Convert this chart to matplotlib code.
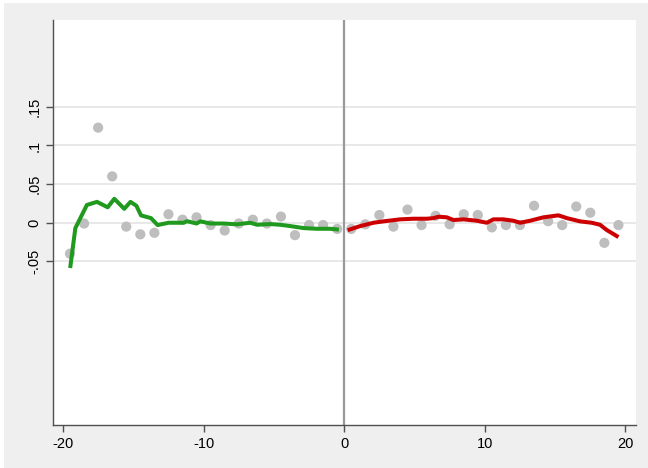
import matplotlib.pyplot as plt
from matplotlib.patches import Rectangle

plt.rcParams['font.family'] = ['Liberation Sans', 'DejaVu Sans']
plt.rcParams['axes.unicode_minus'] = False

# bin means
bin_x = [-19.5, -18.5, -17.5, -16.5, -15.5, -14.5, -13.5, -12.5, -11.5, -10.5,
         -9.5, -8.5, -7.5, -6.5, -5.5, -4.5, -3.5, -2.5, -1.5, -0.5,
         0.5, 1.5, 2.5, 3.5, 4.5, 5.5, 6.5, 7.5, 8.5, 9.5,
         10.5, 11.5, 12.5, 13.5, 14.5, 15.5, 16.5, 17.5, 18.5, 19.5]
bin_y = [-0.040, -0.001, 0.123, 0.060, -0.005, -0.015, -0.013, 0.011, 0.004, 0.007,
         -0.003, -0.010, -0.001, 0.004, -0.001, 0.008, -0.016, -0.003, -0.003, -0.008,
         -0.008, -0.002, 0.010, -0.005, 0.017, -0.003, 0.009, -0.002, 0.011, 0.010,
         -0.006, -0.003, -0.003, 0.022, 0.002, -0.003, 0.021, 0.013, -0.026, -0.003]

# local fit, left of cutoff
left_x = [-19.47, -19.12, -18.3, -17.58, -16.82, -16.35, -15.64, -15.2, -14.78, -14.45,
          -13.74, -13.27, -12.49, -11.42, -11.18, -10.5, -10.23, -9.52, -8.58, -7.63,
          -6.68, -6.2, -5.26, -4.55, -3.84, -2.89, -1.94, -1.0, -0.52]
left_y = [-0.056, -0.007, 0.023, 0.027, 0.020, 0.031, 0.018, 0.027, 0.022, 0.0095,
          0.006, -0.003, 0.0, 0.0, 0.002, -0.001, 0.0018, -0.001, -0.001, -0.002,
          0.0, -0.0026, -0.0017, -0.0026, -0.0043, -0.0069, -0.0078, -0.0078, -0.0086]

# local fit, right of cutoff
right_x = [0.38, 1.14, 2.08, 2.79, 3.98, 4.93, 5.88, 6.35, 6.71, 7.3,
           7.77, 8.48, 9.43, 10.14, 10.61, 11.32, 12.03, 12.51, 13.22, 14.16,
           15.23, 15.83, 16.77, 17.6, 18.19, 18.67, 19.38]
right_y = [-0.0088, -0.0043, 0.0, 0.0018, 0.0044, 0.0052, 0.0052, 0.006, 0.0078, 0.007,
           0.0035, 0.0044, 0.0026, 0.0, 0.0044, 0.0044, 0.0026, 0.0, 0.0026, 0.007,
           0.0096, 0.006, 0.0018, 0.0, -0.0026, -0.0094, -0.0172]

yticks = [-0.05, 0, 0.05, 0.1, 0.15]
ytick_labels = ['-.05', '0', '.05', '.1', '.15']
xticks = [-20, -10, 0, 10, 20]

fig = plt.figure(figsize=(6.48, 4.68), dpi=100, facecolor='white')
fig.patches.append(Rectangle((4 / 648, 0), 1, 1 - 3 / 468, transform=fig.transFigure,
                             facecolor='#efefef', edgecolor='none', zorder=-10))
ax = fig.add_axes([52.7 / 648, 1 - 425.3 / 468, (636 - 52.7) / 648, (425.3 - 20.2) / 468])
ax.set_facecolor('white')

for y in yticks:
    ax.axhline(y, color='#e6e6e6', lw=1.3, zorder=0)
ax.axvline(0, color='#999999', lw=1.6, zorder=1)

ax.scatter(bin_x, bin_y, s=54, color='#bebebe', edgecolors='none', zorder=2)
ax.plot(left_x, left_y, color='#1f9a1f', lw=2.9, solid_joinstyle='round', zorder=3)
ax.plot(right_x, right_y, color='#cc0000', lw=2.9, solid_joinstyle='round', zorder=3)

ax.set_xlim(-20.73, 20.75)
ax.set_ylim(-0.262, 0.262)
ax.set_xticks(xticks)
ax.set_yticks(yticks)
ax.set_yticklabels(ytick_labels, rotation=90, va='center')

for side in ['top', 'right']:
    ax.spines[side].set_visible(False)
for side in ['left', 'bottom']:
    ax.spines[side].set_color('#505050')
    ax.spines[side].set_linewidth(1.0)
ax.tick_params(axis='both', color='#505050', length=5, width=1.0, labelsize=10.5,
               labelcolor='black')
ax.tick_params(axis='y', pad=3)

fig.savefig('out.png', dpi=100, facecolor=fig.get_facecolor())
